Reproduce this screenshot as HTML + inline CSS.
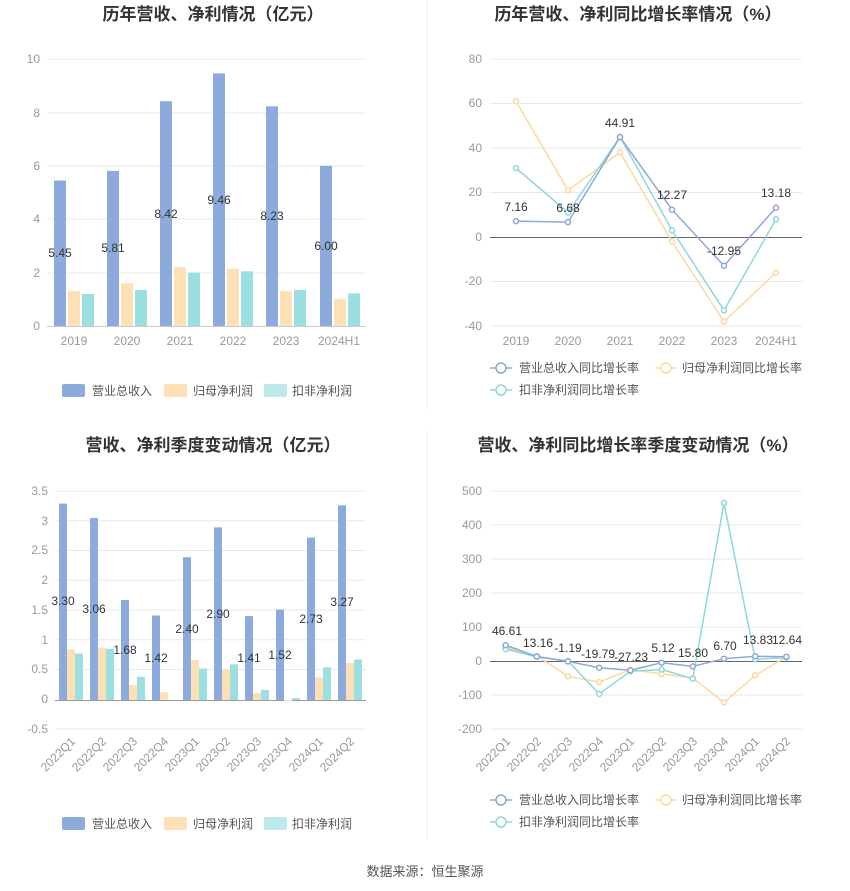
<!DOCTYPE html>
<html><head><meta charset="utf-8"><style>
body{margin:0;background:#fff;}
svg{display:block;font-family:"Liberation Sans","Noto Sans CJK SC",sans-serif;}
.t{font-size:17px;font-weight:bold;fill:#333;text-anchor:middle;}
.ax{font-size:12px;fill:#999;}
.yl{text-anchor:end;}
.g{stroke:#e8e8ee;stroke-width:1;}
.lb{font-size:12px;fill:#333;text-anchor:middle;}
.lg{font-size:12px;fill:#555;}
</style></head><body>
<svg width="850" height="891" viewBox="0 0 850 891">
<line x1="427" y1="0" x2="427" y2="410" stroke="#eee"/>
<line x1="427" y1="430" x2="427" y2="840" stroke="#eee"/>
<text class="t" x="213" y="20">历年营收、净利情况（亿元）</text>
<text class="t" x="638" y="20">历年营收、净利同比增长率情况（%）</text>
<text class="t" x="213" y="451">营收、净利季度变动情况（亿元）</text>
<text class="t" x="638" y="451">营收、净利同比增长率季度变动情况（%）</text>

<!-- Chart 1 -->
<g class="g"><line x1="47" x2="366" y1="59" y2="59"/><line x1="47" x2="366" y1="113" y2="113"/><line x1="47" x2="366" y1="166" y2="166"/><line x1="47" x2="366" y1="219" y2="219"/><line x1="47" x2="366" y1="273" y2="273"/></g>
<line x1="47" x2="366" y1="326.5" y2="326.5" stroke="#ccc"/>
<g class="ax yl"><text x="40" y="63">10</text><text x="40" y="117">8</text><text x="40" y="170">6</text><text x="40" y="223">4</text><text x="40" y="277">2</text><text x="40" y="330">0</text></g>
<g class="ax" text-anchor="middle"><text x="74" y="345">2019</text><text x="127" y="345">2020</text><text x="180" y="345">2021</text><text x="233" y="345">2022</text><text x="286" y="345">2023</text><text x="339" y="345">2024H1</text></g>
<g fill="#8caadc"><rect x="54" y="180.5" width="12" height="145.5"/><rect x="107" y="170.9" width="12" height="155.1"/><rect x="160" y="101.2" width="12" height="224.8"/><rect x="213" y="73.4" width="12" height="252.6"/><rect x="266" y="106.3" width="12" height="219.7"/><rect x="320" y="165.8" width="12" height="160.2"/></g>
<g fill="#fde0b5"><rect x="68" y="291.3" width="12" height="34.7"/><rect x="121" y="283.3" width="12" height="42.7"/><rect x="174" y="267.3" width="12" height="58.7"/><rect x="227" y="268.6" width="12" height="57.4"/><rect x="280" y="291.3" width="12" height="34.7"/><rect x="334" y="299.3" width="12" height="26.7"/></g>
<g fill="#9bdfe0"><rect x="82" y="294" width="12" height="32"/><rect x="135" y="290" width="12" height="36"/><rect x="188" y="272.6" width="12" height="53.4"/><rect x="241" y="271.3" width="12" height="54.7"/><rect x="294" y="290" width="12" height="36"/><rect x="348" y="293.4" width="12" height="32.6"/></g>
<g class="lb"><text x="60" y="257">5.45</text><text x="113" y="252">5.81</text><text x="166" y="218">8.42</text><text x="219" y="204">9.46</text><text x="272" y="220">8.23</text><text x="326" y="250">6.00</text></g>
<rect x="62" y="384" width="23" height="13" rx="2" fill="#8caadc"/><text class="lg" x="92" y="395">营业总收入</text>
<rect x="164" y="384" width="23" height="13" rx="2" fill="#fde0b5"/><text class="lg" x="193" y="395">归母净利润</text>
<rect x="264" y="384" width="23" height="13" rx="2" fill="#bde9ea"/><text class="lg" x="292" y="395">扣非净利润</text>

<!-- Chart 2 -->
<g class="g"><line x1="490" x2="802" y1="59" y2="59"/><line x1="490" x2="802" y1="103.5" y2="103.5"/><line x1="490" x2="802" y1="148" y2="148"/><line x1="490" x2="802" y1="192.5" y2="192.5"/><line x1="490" x2="802" y1="281.5" y2="281.5"/><line x1="490" x2="802" y1="326" y2="326"/></g>
<line x1="490" x2="802" y1="237.5" y2="237.5" stroke="#666"/>
<g class="ax yl"><text x="482" y="63">80</text><text x="482" y="107">60</text><text x="482" y="152">40</text><text x="482" y="196">20</text><text x="482" y="241">0</text><text x="482" y="285">-20</text><text x="482" y="330">-40</text></g>
<g class="ax" text-anchor="middle"><text x="516" y="345">2019</text><text x="568" y="345">2020</text><text x="620" y="345">2021</text><text x="672" y="345">2022</text><text x="724" y="345">2023</text><text x="776" y="345">2024H1</text></g>
<g fill="#fff" stroke-width="1.5">
<polyline fill="none" stroke="#fcd9a1" points="516,101.3 568,190.3 620,152.4 672,241.5 724,321.6 776,272.6"/>
<g stroke="#fcd9a1"><circle cx="516" cy="101.3" r="2.5"/><circle cx="568" cy="190.3" r="2.5"/><circle cx="620" cy="152.4" r="2.5"/><circle cx="672" cy="241.5" r="2.5"/><circle cx="724" cy="321.6" r="2.5"/><circle cx="776" cy="272.6" r="2.5"/></g>
<polyline fill="none" stroke="#8ed8da" points="516,168 568,212.5 620,136.9 672,230.3 724,310.4 776,219.2"/>
<g stroke="#8ed8da"><circle cx="516" cy="168" r="2.5"/><circle cx="568" cy="212.5" r="2.5"/><circle cx="620" cy="136.9" r="2.5"/><circle cx="672" cy="230.3" r="2.5"/><circle cx="724" cy="310.4" r="2.5"/><circle cx="776" cy="219.2" r="2.5"/></g>
<polyline fill="none" stroke="#8fa8d8" points="516,221.1 568,222.1 620,137.1 672,209.7 724,265.8 776,207.7"/>
<g stroke="#8fa8d8"><circle cx="516" cy="221.1" r="2.5"/><circle cx="568" cy="222.1" r="2.5"/><circle cx="620" cy="137.1" r="2.5"/><circle cx="672" cy="209.7" r="2.5"/><circle cx="724" cy="265.8" r="2.5"/><circle cx="776" cy="207.7" r="2.5"/></g>
</g>
<g class="lb"><text x="516" y="211">7.16</text><text x="568" y="212">6.68</text><text x="620" y="127">44.91</text><text x="672" y="199">12.27</text><text x="724" y="255">-12.95</text><text x="776" y="197">13.18</text></g>
<g fill="#fff" stroke-width="1.5">
<line x1="490" x2="512" y1="368" y2="368" stroke="#8fa8d8"/><circle cx="501" cy="368" r="5" stroke="#8fa8d8"/>
<line x1="655" x2="677" y1="368" y2="368" stroke="#fcd9a1"/><circle cx="666" cy="368" r="5" stroke="#fcd9a1"/>
<line x1="490" x2="512" y1="390" y2="390" stroke="#8ed8da"/><circle cx="501" cy="390" r="5" stroke="#8ed8da"/>
</g>
<text class="lg" x="519" y="372">营业总收入同比增长率</text><text class="lg" x="682" y="372">归母净利润同比增长率</text><text class="lg" x="519" y="394">扣非净利润同比增长率</text>

<!-- Chart 3 -->
<g class="g"><line x1="55" x2="366" y1="491" y2="491"/><line x1="55" x2="366" y1="520.8" y2="520.8"/><line x1="55" x2="366" y1="550.5" y2="550.5"/><line x1="55" x2="366" y1="580.3" y2="580.3"/><line x1="55" x2="366" y1="610" y2="610"/><line x1="55" x2="366" y1="639.8" y2="639.8"/><line x1="55" x2="366" y1="669.5" y2="669.5"/><line x1="55" x2="366" y1="729" y2="729"/></g>
<line x1="55" x2="366" y1="700.5" y2="700.5" stroke="#999"/>
<g class="ax yl"><text x="48" y="495">3.5</text><text x="48" y="525">3</text><text x="48" y="554">2.5</text><text x="48" y="584">2</text><text x="48" y="614">1.5</text><text x="48" y="644">1</text><text x="48" y="673">0.5</text><text x="48" y="703">0</text><text x="48" y="733">-0.5</text></g>
<g class="ax" text-anchor="end">
<text transform="translate(76,742) rotate(-45)">2022Q1</text><text transform="translate(107,742) rotate(-45)">2022Q2</text><text transform="translate(138,742) rotate(-45)">2022Q3</text><text transform="translate(169,742) rotate(-45)">2022Q4</text><text transform="translate(200,742) rotate(-45)">2023Q1</text><text transform="translate(231,742) rotate(-45)">2023Q2</text><text transform="translate(262,742) rotate(-45)">2023Q3</text><text transform="translate(293,742) rotate(-45)">2023Q4</text><text transform="translate(324,742) rotate(-45)">2024Q1</text><text transform="translate(355,742) rotate(-45)">2024Q2</text>
</g>
<g fill="#8caadc"><rect x="59" y="503.6" width="8" height="196.4"/><rect x="90" y="517.9" width="8" height="182.1"/><rect x="121" y="600" width="8" height="100"/><rect x="152" y="615.5" width="8" height="84.5"/><rect x="183" y="557.2" width="8" height="142.8"/><rect x="214" y="527.4" width="8" height="172.6"/><rect x="245" y="616.1" width="8" height="83.9"/><rect x="276" y="609.6" width="8" height="90.4"/><rect x="307" y="537.6" width="8" height="162.4"/><rect x="338" y="505.4" width="8" height="194.6"/></g>
<g fill="#fde0b5"><rect x="67" y="649.4" width="8" height="50.6"/><rect x="98" y="647.6" width="8" height="52.4"/><rect x="129" y="685.1" width="8" height="14.9"/><rect x="160" y="692.3" width="8" height="7.7"/><rect x="191" y="660.1" width="8" height="39.9"/><rect x="222" y="669.1" width="8" height="30.9"/><rect x="253" y="692.9" width="8" height="7.1"/><rect x="284" y="700" width="8" height="1.2"/><rect x="315" y="677.4" width="8" height="22.6"/><rect x="346" y="663.1" width="8" height="36.9"/></g>
<g fill="#9bdfe0"><rect x="75" y="653.6" width="8" height="46.4"/><rect x="106" y="648.8" width="8" height="51.2"/><rect x="137" y="676.8" width="8" height="23.2"/><rect x="199" y="668.5" width="8" height="31.5"/><rect x="230" y="664.3" width="8" height="35.7"/><rect x="261" y="689.9" width="8" height="10.1"/><rect x="292" y="698.2" width="8" height="1.8"/><rect x="323" y="667.3" width="8" height="32.7"/><rect x="354" y="659.5" width="8" height="40.5"/></g>
<g class="lb"><text x="63" y="605">3.30</text><text x="94" y="613">3.06</text><text x="125" y="654">1.68</text><text x="156" y="662">1.42</text><text x="187" y="633">2.40</text><text x="218" y="618">2.90</text><text x="249" y="662">1.41</text><text x="280" y="659">1.52</text><text x="311" y="623">2.73</text><text x="342" y="606">3.27</text></g>
<rect x="62" y="817" width="23" height="13" rx="2" fill="#8caadc"/><text class="lg" x="92" y="828">营业总收入</text>
<rect x="164" y="817" width="23" height="13" rx="2" fill="#fde0b5"/><text class="lg" x="193" y="828">归母净利润</text>
<rect x="264" y="817" width="23" height="13" rx="2" fill="#bde9ea"/><text class="lg" x="292" y="828">扣非净利润</text>

<!-- Chart 4 -->
<g class="g"><line x1="490" x2="802" y1="491" y2="491"/><line x1="490" x2="802" y1="525" y2="525"/><line x1="490" x2="802" y1="559" y2="559"/><line x1="490" x2="802" y1="593" y2="593"/><line x1="490" x2="802" y1="627" y2="627"/><line x1="490" x2="802" y1="695" y2="695"/><line x1="490" x2="802" y1="729" y2="729"/></g>
<line x1="490" x2="802" y1="661.5" y2="661.5" stroke="#666"/>
<g class="ax yl"><text x="482" y="495">500</text><text x="482" y="529">400</text><text x="482" y="563">300</text><text x="482" y="597">200</text><text x="482" y="631">100</text><text x="482" y="665">0</text><text x="482" y="699">-100</text><text x="482" y="733">-200</text></g>
<g class="ax" text-anchor="end">
<text transform="translate(511,742) rotate(-45)">2022Q1</text><text transform="translate(542,742) rotate(-45)">2022Q2</text><text transform="translate(573,742) rotate(-45)">2022Q3</text><text transform="translate(604,742) rotate(-45)">2022Q4</text><text transform="translate(635,742) rotate(-45)">2023Q1</text><text transform="translate(667,742) rotate(-45)">2023Q2</text><text transform="translate(698,742) rotate(-45)">2023Q3</text><text transform="translate(729,742) rotate(-45)">2023Q4</text><text transform="translate(760,742) rotate(-45)">2024Q1</text><text transform="translate(791,742) rotate(-45)">2024Q2</text>
</g>
<g fill="#fff" stroke-width="1.5">
<polyline fill="none" stroke="#fcd9a1" points="505.6,647.4 536.8,655.9 568,676.3 599.2,682.1 630.4,669.5 661.6,673.9 692.8,678 724,702.5 755.2,675.3 786.4,656.9"/>
<g stroke="#fcd9a1"><circle cx="505.6" cy="647.4" r="2.5"/><circle cx="536.8" cy="655.9" r="2.5"/><circle cx="568" cy="676.3" r="2.5"/><circle cx="599.2" cy="682.1" r="2.5"/><circle cx="630.4" cy="669.5" r="2.5"/><circle cx="661.6" cy="673.9" r="2.5"/><circle cx="692.8" cy="678" r="2.5"/><circle cx="724" cy="702.5" r="2.5"/><circle cx="755.2" cy="675.3" r="2.5"/><circle cx="786.4" cy="656.9" r="2.5"/></g>
<polyline fill="none" stroke="#8ed8da" points="505.6,649.1 536.8,656.9 568,661 599.2,694 630.4,671.2 661.6,669.5 692.8,678.7 724,502.9 755.2,659.3 786.4,657.6"/>
<g stroke="#8ed8da"><circle cx="505.6" cy="649.1" r="2.5"/><circle cx="536.8" cy="656.9" r="2.5"/><circle cx="568" cy="661" r="2.5"/><circle cx="599.2" cy="694" r="2.5"/><circle cx="630.4" cy="671.2" r="2.5"/><circle cx="661.6" cy="669.5" r="2.5"/><circle cx="692.8" cy="678.7" r="2.5"/><circle cx="724" cy="502.9" r="2.5"/><circle cx="755.2" cy="659.3" r="2.5"/><circle cx="786.4" cy="657.6" r="2.5"/></g>
<polyline fill="none" stroke="#8fa8d8" points="505.6,645.2 536.8,656.5 568,661.4 599.2,667.7 630.4,670.3 661.6,662.7 692.8,666.4 724,658.7 755.2,656.3 786.4,656.7"/>
<g stroke="#8fa8d8"><circle cx="505.6" cy="645.2" r="2.5"/><circle cx="536.8" cy="656.5" r="2.5"/><circle cx="568" cy="661.4" r="2.5"/><circle cx="599.2" cy="667.7" r="2.5"/><circle cx="630.4" cy="670.3" r="2.5"/><circle cx="661.6" cy="662.7" r="2.5"/><circle cx="692.8" cy="666.4" r="2.5"/><circle cx="724" cy="658.7" r="2.5"/><circle cx="755.2" cy="656.3" r="2.5"/><circle cx="786.4" cy="656.7" r="2.5"/></g>
</g>
<g class="lb"><text x="507" y="635">46.61</text><text x="538" y="647">13.16</text><text x="568" y="652">-1.19</text><text x="598" y="658">-19.79</text><text x="631" y="661">-27.23</text><text x="663" y="652">5.12</text><text x="693" y="657">15.80</text><text x="725" y="650">6.70</text><text x="758" y="644">13.83</text><text x="787" y="644">12.64</text></g>
<g fill="#fff" stroke-width="1.5">
<line x1="490" x2="512" y1="800" y2="800" stroke="#8fa8d8"/><circle cx="501" cy="800" r="5" stroke="#8fa8d8"/>
<line x1="655" x2="677" y1="800" y2="800" stroke="#fcd9a1"/><circle cx="666" cy="800" r="5" stroke="#fcd9a1"/>
<line x1="490" x2="512" y1="822" y2="822" stroke="#8ed8da"/><circle cx="501" cy="822" r="5" stroke="#8ed8da"/>
</g>
<text class="lg" x="519" y="804">营业总收入同比增长率</text><text class="lg" x="682" y="804">归母净利润同比增长率</text><text class="lg" x="519" y="826">扣非净利润同比增长率</text>

<text x="425" y="876" font-size="13" fill="#555" text-anchor="middle">数据来源：恒生聚源</text>
</svg>
</body></html>
